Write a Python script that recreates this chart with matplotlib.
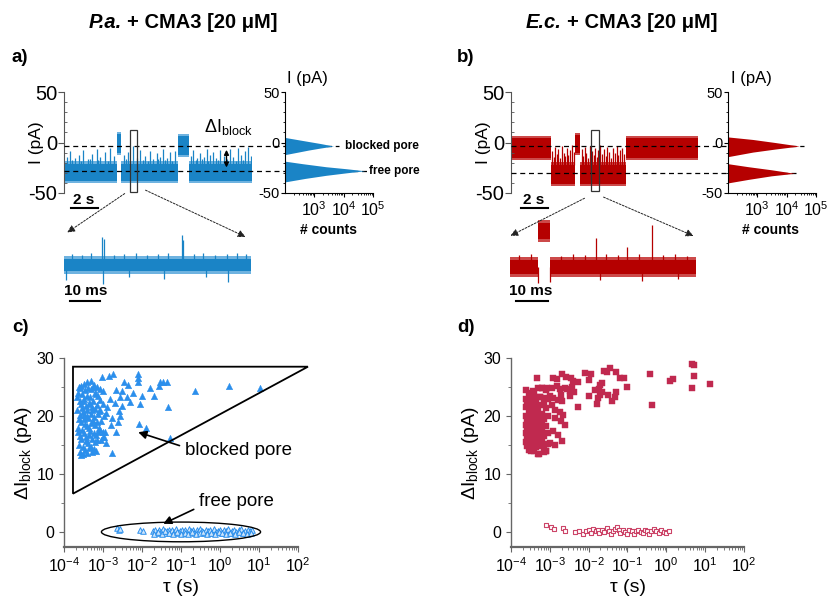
import numpy as np
import matplotlib.pyplot as plt
from matplotlib.ticker import MultipleLocator, LogLocator, FixedLocator, NullFormatter
from matplotlib.patches import FancyArrowPatch, Rectangle, Polygon, Ellipse

plt.rcParams['font.family'] = ['Liberation Sans', 'DejaVu Sans']
plt.rcParams['mathtext.fontset'] = 'custom'
plt.rcParams['mathtext.rm'] = 'Liberation Sans'
plt.rcParams['mathtext.it'] = 'Liberation Sans:italic'
plt.rcParams['mathtext.bf'] = 'Liberation Sans:bold'
plt.rcParams['axes.unicode_minus'] = False

W, H = 827, 596

# ---------------- data ----------------
# current traces: (start s, end s, band low pA, band high pA)
seg_a_start = [0.0, 3.95, 4.25, 8.49, 9.3]
seg_a_end   = [3.95, 4.25, 8.49, 9.3, 14.0]
seg_a_low   = [-38, -10, -38, -12, -38]
seg_a_high  = [-21, 8, -21, 6, -21]

spk_a_t   = [0.2, 0.45, 0.8, 1.1, 1.44, 1.75, 2.1, 2.43, 2.7, 3.05,
             3.43, 3.7, 4.5, 4.79, 5.16, 5.4, 5.66, 6.0, 6.4, 6.65,
             6.9, 7.15, 7.4, 7.65, 7.89, 8.26, 9.45, 9.63, 9.9, 10.13,
             10.4, 10.62, 10.9, 11.12, 11.35, 11.61, 11.9, 12.36, 12.6, 12.98,
             13.2, 13.48, 13.73, 13.9, 0.6, 1.3, 1.9, 2.55, 3.25, 4.65,
             5.9, 6.25, 7.0, 7.5, 8.05, 9.8, 10.25, 10.75, 11.5, 12.15,
             12.8, 13.35]
spk_a_top = [-14, -8, -15, -12, -7, -16, -11, -6, -14, -9,
             -5, -13, -12, -9, -3, -15, -7, -13, -8, -16,
             -10, -14, -6, -15, -9, -8, -13, -7, -15, -10,
             -14, -6, -12, -9, -15, -7, -13, -6, -14, -5,
             -12, -8, -4, -13, -17, -18, -16, -17, -18, -16,
             -17, -18, -16, -17, -18, -17, -16, -18, -17, -16,
             -18, -17]

seg_b_start = [0.0, 3.0, 4.81, 5.2, 8.6]
seg_b_end   = [3.0, 4.81, 5.2, 8.6, 14.0]
seg_b_low   = [-15, -41, -10, -41, -15]
seg_b_high  = [4, -22, 7, -22, 4]

spk_b_t   = [3.1, 3.2, 3.3, 3.45, 3.55, 3.7, 3.8, 3.95, 4.05, 4.2,
             4.3, 4.45, 4.55, 4.7, 5.3, 5.4, 5.55, 5.65, 5.8, 5.9,
             6.05, 6.2, 6.3, 6.45, 6.55, 6.7, 6.85, 6.95, 7.1, 7.2,
             7.35, 7.5, 7.6, 7.75, 7.9, 8.0, 8.15, 8.3, 8.45]
spk_b_top = [-8, -14, -4, -11, -6, -15, -3, -10, -13, -5,
             -12, -7, -2, -9, -6, -13, -4, -10, -15, -3,
             -8, -12, -5, -14, -7, -2, -11, -6, -13, -4,
             -9, -15, -5, -10, -3, -12, -7, -5, -11]

level_a = [-3.5, -28.0]     # blocked, free (pA)
level_b = [-3.5, -30.5]

# zoomed traces (ms, pA)
ins_a_start = [0.0]
ins_a_end   = [62.0]
ins_a_low   = [-34]
ins_a_high  = [-22]
ins_a_up_t   = [2.5, 6, 9, 12.7, 13.1, 16.5, 20, 24, 27.5, 31, 34.5, 39, 39.4, 43, 46, 50, 54, 57.5, 60.5]
ins_a_up_top = [-17, -18, -16, 0, -2, -18, -17, -16, -18, -17, -16, 2, -3, -17, -16, -18, -17, -16, -17]
ins_a_dn_t   = [0.6, 13.0, 21.5, 33.0, 47.0, 54.5]
ins_a_dn_bot = [-43, -47, -40, -42, -40, -45]

ins_b_start = [0.0, 9.3, 13.2]
ins_b_end   = [9.3, 13.2, 62.0]
ins_b_low   = [-37, -2, -37]
ins_b_high  = [-23, 14, -23]
ins_b_up_t   = [3, 7, 17, 21, 25, 28.7, 32, 36, 39, 43, 47.3, 51, 55, 59]
ins_b_up_top = [-18, -17, -19, -17, -18, -1, -17, -18, -10, -17, 12, -18, -17, -19]
ins_b_dn_t   = [9.2, 13.4, 30, 44, 56]
ins_b_dn_bot = [-46, -45, -43, -44, -42]

# all-points histograms (pA, counts)
hist_a_I = [8, 5, 3, 1, -1, -3.5, -5.5, -7.5, -9.5, -12, -15,
            -18.5, -21, -24, -26, -28, -30, -32.5, -35.5, -39, -42]
hist_a_n = [1, 100, 250, 630, 1600, 4500, 1600, 630, 280, 100, 1,
            100, 400, 2500, 12600, 52000, 12600, 2500, 500, 100, 1]
hist_b_I = [9, 5.5, 3, 0, -3.5, -6.5, -9.5, -14, -17,
            -21, -24, -27, -30.5, -33, -36.5, -40, -43]
hist_b_n = [1, 100, 700, 4000, 27000, 4000, 700, 100, 1,
            100, 500, 3000, 18600, 3000, 500, 100, 1]

# scatter c: dwell time (s) vs blockage amplitude (pA)
c_block_tau = [2.3e-4, 2.5e-4, 2.2e-4, 2.4e-4, 2.3e-4, 2.5e-4, 2.4e-4, 2.6e-4, 2.2e-4, 2.3e-4,
               2.8e-4, 2.9e-4, 2.7e-4, 3.0e-4, 2.8e-4, 2.9e-4, 2.7e-4, 3.0e-4, 2.8e-4, 2.9e-4,
               3.3e-4, 3.5e-4, 3.2e-4, 3.6e-4, 3.3e-4, 3.5e-4, 3.2e-4, 3.6e-4, 3.4e-4, 3.3e-4,
               4.0e-4, 4.2e-4, 3.9e-4, 4.3e-4, 4.0e-4, 4.2e-4, 3.9e-4, 4.3e-4, 4.1e-4, 4.0e-4,
               4.8e-4, 5.0e-4, 4.7e-4, 5.1e-4, 4.8e-4, 5.0e-4, 4.7e-4, 5.2e-4, 4.9e-4, 5.1e-4,
               5.8e-4, 6.1e-4, 5.7e-4, 6.2e-4, 5.9e-4, 6.1e-4, 5.8e-4, 6.3e-4, 6.0e-4,
               7.0e-4, 7.3e-4, 6.9e-4, 7.4e-4, 7.1e-4, 7.3e-4, 7.0e-4, 6.8e-4,
               8.3e-4, 8.6e-4, 8.2e-4, 8.8e-4, 8.4e-4, 8.7e-4,
               1.0e-3, 1.0e-3, 1.05e-3, 1.0e-3, 1.05e-3,
               2.6e-4, 3.1e-4, 3.8e-4, 4.5e-4, 5.4e-4, 6.5e-4, 7.7e-4, 2.5e-4, 3.7e-4, 4.6e-4,
               5.5e-4, 6.6e-4, 7.8e-4, 2.4e-4, 3.1e-4, 4.4e-4, 5.3e-4,
               9.3e-4, 1.4e-3, 1.8e-3, 8.1e-3, 8.1e-3, 7.8e-3, 2.9e-2, 3.5e-2, 4.3e-2, 2.7e-2,
               1.6e-2, 0.23, 1.74, 10.7, 4.7e-2, 2.0e-2, 9.8e-3, 8.9e-3, 4.9e-3, 4.1e-3,
               4.5e-3, 2.8e-3, 3.0e-3, 3.0e-3, 2.5e-3, 2.8e-3, 1.7e-3, 1.2e-3, 8.5e-3, 1.26e-2,
               5.2e-2, 2.1e-3, 1.0e-3, 1.1e-3, 1.2e-3, 1.7e-3, 6.0e-3, 3.5e-3, 2.2e-3, 1.5e-3,
               1.3e-3, 2.0e-3, 1.6e-3, 2.4e-3]
c_block_dI = [24.0, 22.5, 21.0, 19.5, 18.0, 16.5, 15.0, 13.8, 23.2, 17.2,
              25.2, 23.8, 22.0, 20.6, 19.0, 17.6, 16.0, 14.6, 13.2, 21.3,
              25.6, 24.4, 23.0, 21.8, 20.2, 18.6, 17.0, 15.6, 14.2, 19.4,
              25.9, 24.8, 23.5, 22.3, 21.0, 19.6, 18.2, 16.8, 15.4, 13.6,
              26.1, 24.6, 23.2, 21.6, 20.3, 18.8, 17.4, 16.0, 14.6, 13.8,
              25.4, 24.0, 22.6, 21.2, 19.8, 18.4, 17.0, 15.5, 14.3,
              25.0, 23.4, 21.9, 20.4, 18.9, 17.3, 15.8, 14.0,
              24.6, 22.8, 21.1, 19.2, 17.6, 15.9,
              24.3, 22.0, 20.0, 17.3, 16.4,
              24.8, 22.6, 20.0, 18.0, 19.2, 23.8, 20.8, 20.2, 16.3, 22.0,
              25.0, 16.8, 18.0, 25.0, 13.5, 14.4, 21.0,
              26.8, 26.9, 27.2, 27.3, 26.6, 25.9, 25.9, 25.8, 25.9, 25.1,
              24.8, 24.3, 25.2, 24.8, 21.6, 23.5, 23.5, 22.1, 22.4, 23.3,
              25.3, 23.3, 24.3, 21.8, 20.9, 20.0, 19.6, 20.5, 18.6, 18.0,
              16.2, 17.3, 16.4, 17.3, 15.3, 13.7, 24.0, 25.8, 24.5, 23.0,
              21.5, 22.2, 18.5, 19.0]

c_free_tau = [2.3e-3, 2.5e-3, 2.7e-3, 9.0e-3, 1.05e-2,
              1.9e-2, 2.1e-2, 2.4e-2, 2.7e-2, 3.0e-2, 3.4e-2, 3.8e-2, 4.3e-2, 4.8e-2, 5.4e-2,
              6.0e-2, 6.7e-2, 7.5e-2, 8.4e-2, 9.4e-2, 0.105, 0.118, 0.13, 0.145, 0.16,
              0.18, 0.2, 0.22, 0.25, 0.28, 0.31, 0.35, 0.39, 0.44, 0.49,
              0.55, 0.62, 0.7, 0.78, 0.88, 0.98, 1.1, 1.25, 1.4, 1.6,
              1.8, 2.0, 2.3, 2.6, 3.0, 3.4, 3.9, 4.5, 5.2, 6.0, 6.8,
              2.0e-2, 2.5e-2, 3.2e-2, 4.0e-2, 5.0e-2, 6.3e-2, 8.0e-2, 0.1, 0.125, 0.155,
              0.19, 0.24, 0.3, 0.37, 0.46, 0.58, 0.73, 0.92, 1.15, 1.45,
              1.85, 2.4, 3.1, 4.0, 5.0, 6.3]
c_free_dI = [0.6, 0.3, 0.5, 0.4, 0.2,
             0.1, 0.4, -0.1, 0.3, 0.0, 0.5, -0.2, 0.2, 0.4, -0.1,
             0.3, 0.0, 0.5, -0.2, 0.2, 0.4, 0.0, 0.3, -0.1, 0.5,
             0.1, 0.4, -0.2, 0.3, 0.0, 0.5, 0.2, -0.1, 0.4, 0.1,
             0.3, -0.2, 0.5, 0.0, 0.2, 0.4, -0.1, 0.3, 0.1, 0.5,
             -0.2, 0.2, 0.4, 0.0, 0.3, 0.5, -0.1, 0.2, 0.4, 0.1, 0.3,
             -0.3, 0.0, -0.3, 0.1, -0.2, -0.4, 0.0, -0.3, -0.1, -0.4,
             0.0, -0.3, -0.2, 0.0, -0.4, -0.1, -0.3, 0.0, -0.2, -0.4,
             -0.1, -0.3, 0.0, -0.2, -0.4, -0.1]

# scatter d
d_block_tau = [2.4e-4, 2.4e-4, 2.4e-4, 2.4e-4, 2.4e-4, 2.4e-4, 2.4e-4,
               2.6e-4, 2.6e-4, 2.6e-4, 2.6e-4, 2.6e-4,
               2.9e-4, 2.9e-4, 2.9e-4, 2.9e-4, 2.9e-4, 2.9e-4, 2.9e-4, 2.9e-4,
               3.2e-4, 3.2e-4, 3.2e-4, 3.2e-4, 3.2e-4, 3.2e-4, 3.2e-4, 3.2e-4,
               3.6e-4, 3.6e-4, 3.6e-4, 3.6e-4, 3.6e-4, 3.6e-4, 3.6e-4, 3.6e-4,
               4.0e-4, 4.0e-4, 4.0e-4, 4.0e-4, 4.0e-4, 4.0e-4, 4.0e-4, 4.0e-4,
               4.5e-4, 4.5e-4, 4.5e-4, 4.5e-4, 4.5e-4, 4.5e-4, 4.5e-4,
               5.0e-4, 5.0e-4, 5.0e-4, 5.0e-4, 5.0e-4, 5.0e-4, 5.0e-4,
               5.6e-4, 5.6e-4, 5.6e-4, 5.6e-4, 5.6e-4, 5.6e-4,
               6.3e-4, 6.3e-4, 6.3e-4, 6.3e-4, 6.3e-4,
               7.0e-4, 7.0e-4, 7.0e-4, 7.0e-4, 7.0e-4,
               7.8e-4, 7.8e-4, 7.8e-4, 7.8e-4,
               8.8e-4, 8.8e-4, 8.8e-4, 8.8e-4,
               4.8e-4, 1.2e-3, 1.5e-3, 2.1e-3, 2.6e-3, 3.6e-3, 3.9e-3, 5.3e-3, 3.8e-3, 8.2e-3,
               1.15e-2, 1.0e-2, 2.5e-2, 3.5e-2, 2.9e-2, 5.2e-2, 6.5e-2, 8.3e-2, 9.5e-2, 0.38,
               1.26, 1.5, 4.5, 5.3, 5.3, 4.5, 13.5, 0.43, 2.2e-2, 2.0e-2,
               1.8e-2, 1.45e-2, 1.7e-2, 2.0e-2, 2.2e-2, 3.1e-2, 5.2e-2, 4.8e-2, 4.1e-2, 1.6e-2,
               1.0e-2, 5.3e-3, 6.2e-4, 8.3e-4, 1.12e-3, 1.5e-3, 1.8e-3, 2.5e-3, 2.8e-3, 3.3e-3,
               5.5e-4, 7.5e-4, 1.0e-3, 1.2e-3, 1.6e-3, 1.9e-3, 2.1e-3, 3.3e-3, 4.2e-3, 1.12e-3,
               1.35e-3, 1.8e-3, 2.2e-3, 1.35e-3, 1.95e-3, 2.5e-3, 1.2e-3, 1.6e-3, 2.0e-3, 7.8e-4,
               5.3e-4, 1.0e-3, 1.35e-3]
d_block_dI = [24.5, 23.0, 21.5, 20.0, 18.5, 17.0, 15.5,
              22.2, 19.2, 16.3, 14.9, 18.0,
              24.0, 22.8, 21.0, 19.6, 18.2, 16.8, 15.4, 14.2,
              23.5, 21.8, 20.5, 19.0, 17.6, 16.2, 14.8, 13.9,
              22.6, 21.2, 19.8, 18.4, 17.0, 15.7, 14.4, 24.3,
              23.8, 22.0, 20.6, 19.3, 17.9, 16.5, 15.1, 14.0,
              21.5, 20.1, 18.7, 17.3, 15.9, 14.6, 22.9,
              24.8, 20.8, 19.5, 18.1, 16.7, 15.3, 13.4,
              23.2, 21.9, 19.9, 17.7, 16.1, 14.8,
              24.9, 20.4, 18.8, 17.2, 15.6,
              22.3, 19.4, 16.6, 15.0, 13.8,
              24.5, 21.3, 18.2, 13.9,
              23.0, 20.0, 17.0, 15.2,
              26.5, 26.6, 26.4, 27.3, 26.8, 26.5, 26.0, 25.8, 25.0, 27.4,
              27.2, 26.2, 27.8, 28.3, 27.5, 27.5, 26.5, 26.5, 25.0, 27.3,
              26.1, 26.4, 28.9, 28.8, 26.9, 24.9, 25.5, 21.9, 25.7, 25.3,
              24.7, 24.4, 23.05, 23.6, 24.1, 23.7, 24.1, 23.2, 22.5, 22.0,
              23.5, 21.6, 24.9, 24.8, 24.9, 25.2, 24.6, 24.8, 24.6, 24.3,
              23.2, 23.1, 23.4, 23.1, 22.8, 23.6, 22.6, 23.4, 24.2, 21.9,
              21.0, 20.7, 20.2, 19.6, 19.1, 18.4, 17.4, 16.7, 15.7, 13.9,
              13.4, 15.3, 15.0]

d_free_tau = [7.9e-4, 1.1e-3, 1.3e-3, 2.2e-3, 2.4e-3, 4.4e-3, 5.5e-3, 7.0e-3, 8.5e-3, 1.0e-2,
              1.15e-2, 1.3e-2, 1.5e-2, 1.7e-2, 1.9e-2, 2.2e-2, 2.5e-2, 2.9e-2, 3.3e-2, 3.7e-2,
              4.2e-2, 4.8e-2, 5.4e-2, 6.0e-2, 6.6e-2, 7.5e-2, 8.5e-2, 9.6e-2, 0.11, 0.13,
              0.15, 0.17, 0.19, 0.22, 0.25, 0.28, 0.32, 0.36, 0.41, 0.47,
              0.55, 0.63, 0.72, 0.85, 1.0, 1.2]
d_free_dI = [1.2, 0.9, 0.5, 0.6, 0.2, -0.05, 0.2, -0.3, 0.1, 0.4,
             -0.2, 0.5, 0.1, 0.4, -0.2, 0.3, 0.0, 0.6, 0.2, -0.3,
             0.1, 0.5, 0.8, 0.3, -0.2, 0.4, 0.0, -0.3, 0.3, 0.1,
             -0.3, 0.2, 0.4, 0.0, -0.2, 0.3, 0.1, -0.3, 0.2, 0.5,
             0.1, -0.1, 0.3, 0.0, -0.1, 0.2]

# ---------------- styles ----------------
BLUE = '#1a84c6'
BLUE_LIGHT = '#6fb3e0'
RED = '#b50000'
RED_LIGHT = '#cc4a4a'
C_SCAT = '#2b8fec'
D_SCAT = '#c0294f'


def px_axes(fig, x0, y0, x1, y1):
    return fig.add_axes([x0 / W, 1 - y1 / H, (x1 - x0) / W, (y1 - y0) / H])


def fxy(x, y):
    return (x / W, 1 - y / H)


def draw_band(ax, t0s, t1s, lows, highs, color, light, fringe=2.5):
    for t0, t1, lo, hi in zip(t0s, t1s, lows, highs):
        ax.fill_between([t0, t1], lo, hi, color=color, lw=0)
        ax.fill_between([t0, t1], hi, hi + fringe, color=light, lw=0)
        ax.fill_between([t0, t1], lo - fringe, lo, color=light, lw=0)


def trace_axes(fig, x0, x1, segs, spk_t, spk_top, spk_base, color, light):
    ax = px_axes(fig, x0, 92, x1, 193)
    draw_band(ax, *segs, color, light)
    ax.vlines(spk_t, spk_base, spk_top, color=color, lw=0.9)
    ax.set_xlim(0, 14)
    ax.set_ylim(-50, 50)
    for s in ['top', 'right', 'bottom']:
        ax.spines[s].set_visible(False)
    ax.spines['left'].set_color('#555555')
    ax.set_xticks([])
    ax.set_yticks([-50, 0, 50])
    ax.yaxis.set_minor_locator(MultipleLocator(10))
    ax.tick_params(axis='y', which='major', labelsize=14.5, length=4, pad=1, colors='#555555', labelcolor='black')
    ax.tick_params(axis='y', which='minor', length=2.5, direction='in', colors='#555555')
    ax.set_ylabel('I (pA)', fontsize=12.5)
    ax.yaxis.set_label_coords(-0.105, 0.5)
    ax.patch.set_alpha(0)
    return ax


def hist_axes(fig, x0, x1, I, n, color):
    ax = px_axes(fig, x0, 92, x1, 193)
    ax.fill_betweenx(I, 1, n, color=color, lw=0)
    ax.set_xscale('log')
    ax.set_xlim(1e2, 1e5)
    ax.set_ylim(-50, 50)
    for s in ['top', 'right']:
        ax.spines[s].set_visible(False)
    ax.xaxis.set_major_locator(FixedLocator([1e3, 1e4, 1e5]))
    ax.xaxis.set_minor_locator(LogLocator(base=10, subs=np.arange(2, 10), numticks=10))
    ax.xaxis.set_minor_formatter(NullFormatter())
    ax.set_yticks([-50, 0, 50])
    ax.yaxis.set_minor_locator(MultipleLocator(10))
    ax.tick_params(axis='x', which='major', labelsize=11.5, length=3, pad=2)
    ax.tick_params(axis='y', which='major', labelsize=10.5, length=3, pad=1)
    ax.tick_params(which='minor', length=1.5)
    ax.patch.set_alpha(0)
    return ax


def inset_axes(fig, x0, x1, segs, up_t, up_top, dn_t, dn_bot, base, color, light):
    ax = px_axes(fig, x0, 218, x1, 288)
    draw_band(ax, *segs, color, light, fringe=3)
    ax.vlines(up_t, base, up_top, color=color, lw=0.9)
    ax.vlines(dn_t, dn_bot, base, color=color, lw=0.9)
    ax.set_xlim(0, 62)
    ax.set_ylim(-51, 19)
    ax.axis('off')
    return ax


fig = plt.figure(figsize=(W / 100, H / 100), dpi=100)

# ---------------- titles & panel labels ----------------
fig.text(*fxy(122, 22), 'P.a.', fontsize=14.5, fontweight='bold', style='italic', ha='right', va='center')
fig.text(*fxy(127, 22), '+ CMA3 [20 μM]', fontsize=14.5, fontweight='bold', ha='left', va='center')
fig.text(*fxy(562, 22), 'E.c.', fontsize=14.5, fontweight='bold', style='italic', ha='right', va='center')
fig.text(*fxy(567, 22), '+ CMA3 [20 μM]', fontsize=14.5, fontweight='bold', ha='left', va='center')
for lab, x, y in [('a)', 12, 57), ('b)', 457, 57), ('c)', 12, 327), ('d)', 457, 327)]:
    fig.text(*fxy(x, y), lab, fontsize=13.5, fontweight='bold', ha='left', va='center')

# ---------------- panel a ----------------
axa = trace_axes(fig, 64, 252, (seg_a_start, seg_a_end, seg_a_low, seg_a_high),
                 spk_a_t, spk_a_top, -22, BLUE, BLUE_LIGHT)
for lv, xe in zip(level_a, [20.5, 22.6]):
    axa.plot([0, xe], [lv, lv], color='black', lw=0.9, ls=(0, (4, 3)), clip_on=False, zorder=5)
axa.add_patch(Rectangle((4.9, -49), 0.5, 61, fill=False, lw=0.9, ec='#333333', clip_on=False, zorder=6))
axa.annotate('', xy=(12.1, level_a[0] - 1), xytext=(12.1, level_a[1] + 0.5),
             arrowprops=dict(arrowstyle='<|-|>', mutation_scale=7, lw=1.0, color='black'), zorder=7)
axa.text(10.4, 15, r'$\mathrm{\Delta I}_{\mathrm{block}}$', fontsize=13, ha='left', va='center')
axa.plot([0.52, 2.52], [-65, -65], color='black', lw=1.5, clip_on=False)
axa.text(1.45, -57, '2 s', fontsize=11, fontweight='bold', ha='center', va='center')

hist_axes(fig, 285, 373, hist_a_I, hist_a_n, BLUE)
fig.text(*fxy(287, 79), 'I (pA)', fontsize=12, ha='left', va='center')
fig.text(*fxy(328, 230), '# counts', fontsize=10, fontweight='bold', ha='center', va='center')
fig.text(*fxy(345, 146), 'blocked pore', fontsize=8.5, fontweight='bold', ha='left', va='center')
fig.text(*fxy(369, 171), 'free pore', fontsize=8.5, fontweight='bold', ha='left', va='center')

ina = inset_axes(fig, 64, 251, (ins_a_start, ins_a_end, ins_a_low, ins_a_high),
                 ins_a_up_t, ins_a_up_top, ins_a_dn_t, ins_a_dn_bot, -28, BLUE, BLUE_LIGHT)
ina.plot([2, 12], [-64, -64], color='black', lw=1.5, clip_on=False)
ina.text(7.3, -54, '10 ms', fontsize=11, fontweight='bold', ha='center', va='center')

# ---------------- panel b ----------------
axb = trace_axes(fig, 511, 698, (seg_b_start, seg_b_end, seg_b_low, seg_b_high),
                 spk_b_t, spk_b_top, -22, RED, RED_LIGHT)
for lv, xe in zip(level_b, [21.9, 21.5]):
    axb.plot([0, xe], [lv, lv], color='black', lw=0.9, ls=(0, (4, 3)), clip_on=False, zorder=5)
axb.add_patch(Rectangle((6.0, -48), 0.6, 60, fill=False, lw=0.9, ec='#333333', clip_on=False, zorder=6))
axb.plot([0.75, 2.77], [-65, -65], color='black', lw=1.5, clip_on=False)
axb.text(1.72, -57, '2 s', fontsize=11, fontweight='bold', ha='center', va='center')

hist_axes(fig, 728, 816, hist_b_I, hist_b_n, RED)
fig.text(*fxy(731, 79), 'I (pA)', fontsize=12, ha='left', va='center')
fig.text(*fxy(771, 230), '# counts', fontsize=10, fontweight='bold', ha='center', va='center')

inb = inset_axes(fig, 510, 696, (ins_b_start, ins_b_end, ins_b_low, ins_b_high),
                 ins_b_up_t, ins_b_up_top, ins_b_dn_t, ins_b_dn_bot, -30, RED, RED_LIGHT)
inb.plot([2, 12.6], [-64, -64], color='black', lw=1.5, clip_on=False)
inb.text(7.0, -54, '10 ms', fontsize=11, fontweight='bold', ha='center', va='center')

# zoom arrows
for p0, p1 in [((127, 192), (65, 234)), ((143, 189), (248, 238)),
               ((587, 197), (508, 237)), ((601, 196), (696, 237))]:
    fig.add_artist(FancyArrowPatch(fxy(*p0), fxy(*p1), transform=fig.transFigure,
                                   arrowstyle='-|>', mutation_scale=11, lw=0.7,
                                   ls=(0, (2, 1.5)), color='#222222'))


# ---------------- panels c, d ----------------
def scatter_axes(fig, x0, x1):
    ax = px_axes(fig, x0, 358, x1, 547)
    ax.set_xscale('log')
    ax.set_xlim(1e-4, 1e2)
    ax.set_ylim(-2.6, 30)
    for s in ['top', 'right']:
        ax.spines[s].set_visible(False)
    for s in ['left', 'bottom']:
        ax.spines[s].set_color('#666666')
    ax.spines['left'].set_linewidth(1.0)
    ax.spines['bottom'].set_linewidth(1.6)
    ax.xaxis.set_major_locator(LogLocator(base=10, numticks=12))
    ax.xaxis.set_minor_locator(LogLocator(base=10, subs=np.arange(2, 10), numticks=12))
    ax.xaxis.set_minor_formatter(NullFormatter())
    ax.set_yticks([0, 10, 20, 30])
    ax.yaxis.set_minor_locator(MultipleLocator(5))
    ax.tick_params(which='major', labelsize=11.5, length=3.5, colors='#666666', labelcolor='black')
    ax.tick_params(which='minor', length=2, colors='#666666')
    ax.set_xlabel('τ (s)', fontsize=14)
    ax.xaxis.set_label_coords(0.5, -0.17)
    ax.set_ylabel(r'$\mathrm{\Delta I}_{\mathrm{block}}$ (pA)', fontsize=14)
    ax.yaxis.set_label_coords(-0.13, 0.5)
    ax.patch.set_alpha(0)
    return ax


axc = scatter_axes(fig, 64, 298)
axc.scatter(c_block_tau, c_block_dI, marker='^', s=22, color=C_SCAT, lw=0.3, zorder=3)
axc.scatter(c_free_tau, c_free_dI, marker='^', s=16, facecolor='#cfe5fb', edgecolor=C_SCAT, lw=0.7, zorder=3)
axc.add_patch(Polygon([(1.7e-4, 28.5), (180, 28.5), (1.7e-4, 6.6)], closed=True, fill=False,
                      lw=1.3, ec='black', clip_on=False, zorder=4))
ell_lx, ell_w, ell_y, ell_h = -1.0, 2.04, 0.0, 1.7
axc.add_patch(Ellipse(((ell_lx + 4) / 6, (ell_y + 2.6) / 32.6), 2 * ell_w / 6, 2 * ell_h / 32.6,
                      transform=axc.transAxes, fill=False, lw=1.0, ec='black', zorder=4))
axc.annotate('blocked pore', xy=(8e-3, 17.2), xytext=(0.126, 14.0), fontsize=13.5,
             ha='left', va='center',
             arrowprops=dict(arrowstyle='-|>', mutation_scale=12, lw=1.2, color='black',
                             relpos=(0, 0.7), shrinkA=2, shrinkB=0))
axc.annotate('free pore', xy=(3.5e-2, 1.4), xytext=(0.29, 5.2), fontsize=13.5,
             ha='left', va='center',
             arrowprops=dict(arrowstyle='-|>', mutation_scale=12, lw=1.2, color='black',
                             relpos=(0, 0.2), shrinkA=2, shrinkB=0))

axd = scatter_axes(fig, 511, 744)
axd.scatter(d_block_tau, d_block_dI, marker='s', s=16, color=D_SCAT, lw=0.3, zorder=3)
axd.scatter(d_free_tau, d_free_dI, marker='s', s=12, facecolor='white', edgecolor='#cc4468', lw=0.8, zorder=3)

fig.savefig('out.png', dpi=100)
